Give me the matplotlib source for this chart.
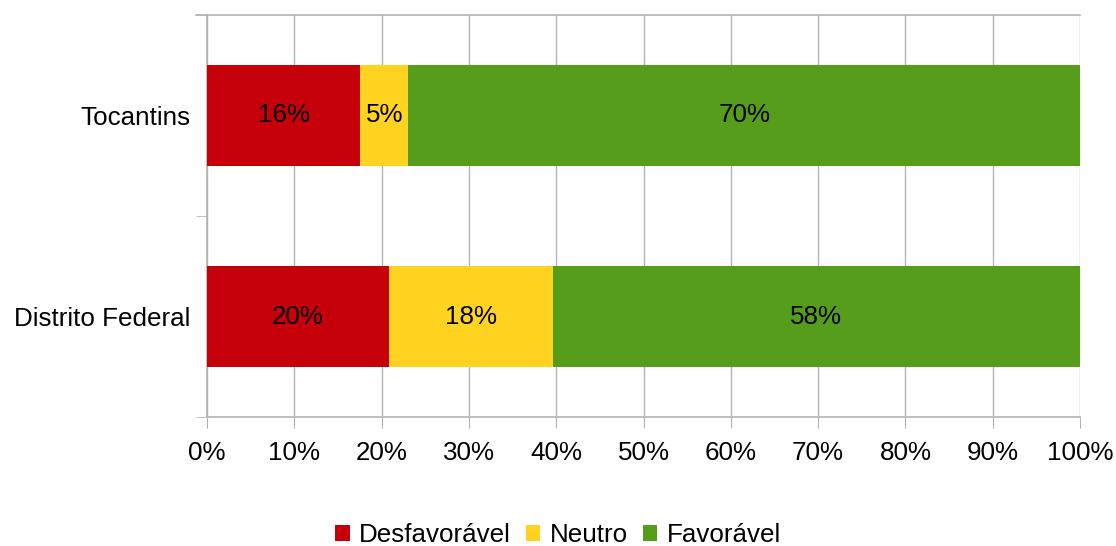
import matplotlib
matplotlib.use("Agg")
import matplotlib.pyplot as plt
from matplotlib.ticker import FuncFormatter, FixedLocator
import numpy as np

plt.rcParams['font.family'] = ['Liberation Sans', 'DejaVu Sans']

categories = ["Distrito Federal", "Tocantins"]
series_names = ["Desfavorável", "Neutro", "Favorável"]
desfavoravel = [20, 16]
neutro = [18, 5]
favoravel = [58, 70]
colors = ["#C5000B", "#FFD320", "#579D1C"]

raw = np.array([desfavoravel, neutro, favoravel], dtype=float)
totals = raw.sum(axis=0)
shares = raw / totals * 100

FS = 18.7

fig = plt.figure(figsize=(11.16, 5.46), dpi=100)
ax = fig.add_axes([207 / 1116, 1 - 417 / 546, (1080 - 207) / 1116, (417 - 15) / 546])

y = np.arange(len(categories))
left = np.zeros(len(categories))
for name, vals, rvals, col in zip(series_names, shares, raw, colors):
    ax.barh(y, vals, left=left, height=0.5, color=col, label=name, zorder=3)
    for yi, l, w, r in zip(y, left, vals, rvals):
        ax.text(l + w / 2, yi, f"{int(r)}%", ha="center", va="center",
                fontsize=FS, color="black", zorder=4)
    left += vals

ax.set_xlim(0, 100)
ax.set_ylim(-0.5, 1.5)
ax.set_xticks(np.arange(0, 101, 10))
ax.xaxis.set_major_formatter(FuncFormatter(lambda v, p: f"{int(v)}%"))
ax.set_yticks(y)
ax.set_yticklabels(categories)
ax.yaxis.set_minor_locator(FixedLocator([-0.5, 0.5, 1.5]))

grid_col = "#B3B3B3"
ax.grid(axis="x", color=grid_col, linewidth=1, zorder=0)
for s in ["left", "bottom", "top"]:
    ax.spines[s].set_color(grid_col)
    ax.spines[s].set_linewidth(1.2)
ax.spines["right"].set_visible(False)
ax.tick_params(axis="x", length=8, color=grid_col, labelsize=FS, pad=9)
ax.tick_params(axis="y", which="major", length=0, labelsize=FS, pad=12)
ax.tick_params(axis="y", which="minor", length=8, color=grid_col)

# the top edge line extends left like a tick
ax.plot([-1.3, 0], [1.5, 1.5], color=grid_col, lw=1.2, clip_on=False)

fig.legend(loc="center", bbox_to_anchor=(0.5, 1 - 535 / 546), ncol=3,
           frameon=False, fontsize=FS, handlelength=0.55, handleheight=0.55,
           handletextpad=0.35, columnspacing=0.6)

fig.savefig("out.png", dpi=100)
